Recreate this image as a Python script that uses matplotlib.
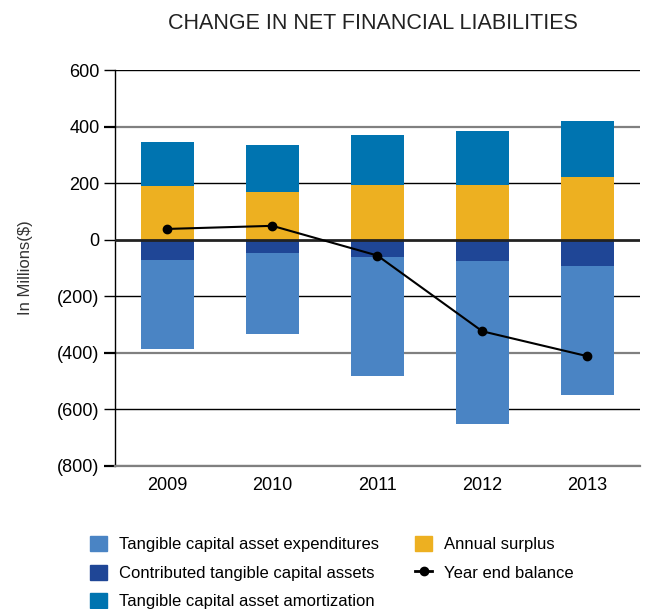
import numpy as np
import matplotlib
matplotlib.use('Agg')
import matplotlib.pyplot as plt
from matplotlib.lines import Line2D
from matplotlib.patches import Patch

# Данные (в миллионах $)
years = ['2009', '2010', '2011', '2012', '2013']
surplus = [190, 170, 194, 192, 220]
amortization = [155, 165, 177, 192, 201]
contributed = [-73, -46, -60, -77, -94]
expenditures = [-312, -289, -423, -576, -454]
balance = [38, 49, -56, -324, -412]

yticks = [600, 400, 200, 0, -200, -400, -600, -800]
ytick_labels = ['600', '400', '200', '0', '(200)', '(400)', '(600)', '(800)']

c_exp = '#4A84C4'
c_con = '#1F4696'
c_amo = '#0074B0'
c_sur = '#EDB021'

plt.rcParams['font.family'] = ['Liberation Sans', 'DejaVu Sans']

fig = plt.figure(figsize=(6.45, 6.09), dpi=100)
ax = fig.add_axes([0.178, 0.235, 0.814, 0.650])

x = np.arange(len(years))
w = 0.5

# Гридлайны: чередуются чёрные и серые
for yv in yticks:
    if yv == 0:
        continue
    col = '#808080' if yv in (400, -400, -800) else 'black'
    lw = 1.6 if col == '#808080' else 1.0
    ax.axhline(yv, color=col, lw=lw, zorder=0)

ax.bar(x, surplus, w, color=c_sur, zorder=2)
ax.bar(x, amortization, w, bottom=surplus, color=c_amo, zorder=2)
ax.bar(x, contributed, w, color=c_con, zorder=2)
ax.bar(x, expenditures, w, bottom=contributed, color=c_exp, zorder=2)
ax.axhline(0, color='#222222', lw=2.0, zorder=3)
ax.plot(x, balance, color='black', lw=1.5, marker='o', ms=6, zorder=4)

ax.set_xlim(-0.5, 4.5)
ax.set_ylim(-800, 600)
ax.set_xticks(x)
ax.set_xticklabels(years, fontsize=13)
ax.set_yticks(yticks)
ax.set_yticklabels(ytick_labels, fontsize=13)
ax.tick_params(axis='x', length=0, pad=8)
ax.tick_params(axis='y', length=8, width=1.0, pad=3)
for t, yv in zip(ax.yaxis.get_major_ticks(), yticks):
    if yv in (400, -400, -800):
        t.tick1line.set_color('#808080')
        t.tick1line.set_markeredgewidth(1.6)

for s in ['top', 'right']:
    ax.spines[s].set_visible(False)
ax.spines['left'].set_linewidth(1.0)
ax.spines['bottom'].set_color('#808080')
ax.spines['bottom'].set_linewidth(1.6)

ax.set_ylabel('In Millions($)', fontsize=12, color='#333333', labelpad=17)

fig.text(0.578, 0.962, 'CHANGE IN NET FINANCIAL LIABILITIES', ha='center', va='center',
         fontsize=15.5, color='#222222')

handles = [
    Patch(color=c_exp, label='Tangible capital asset expenditures'),
    Patch(color=c_con, label='Contributed tangible capital assets'),
    Patch(color=c_amo, label='Tangible capital asset amortization'),
    Patch(color=c_sur, label='Annual surplus'),
    Line2D([], [], color='black', lw=2, marker='o', ms=6, label='Year end balance'),
]
fig.legend(handles=handles, ncol=2, loc='upper left', bbox_to_anchor=(0.14, 0.12),
           frameon=False, fontsize=12, handlelength=1.0, handleheight=1.0,
           handletextpad=0.7, columnspacing=2.2, labelspacing=0.75,
           borderaxespad=0, borderpad=0)

fig.savefig('out.png', dpi=100)
